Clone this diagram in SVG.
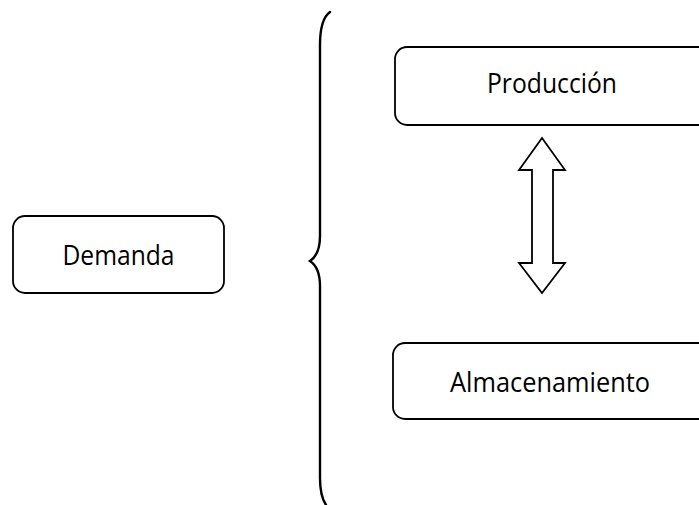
<svg xmlns="http://www.w3.org/2000/svg" width="699" height="505" viewBox="0 0 699 505">
  <style>
    .box { fill: #ffffff; stroke: #000000; stroke-width: 1.8; }
    .label { font-family: "Open Sans", "Noto Sans", sans-serif; font-size: 27.5px; fill: #000000; text-anchor: middle; }
    .brace { fill: none; stroke: #000000; stroke-width: 2.4; stroke-linecap: round; }
    .dbl { fill: #ffffff; stroke: #000000; stroke-width: 1.8; stroke-linejoin: miter; }
  </style>
  <rect width="699" height="505" fill="#ffffff"/>

  <g id="demanda">
    <rect class="box" x="13" y="216" width="211" height="77" rx="12" ry="12"/>
    <text class="label" x="118.5" y="265" textLength="112" lengthAdjust="spacingAndGlyphs">Demanda</text>
  </g>

  <g id="produccion">
    <rect class="box" x="395" y="47" width="320" height="78" rx="12" ry="12"/>
    <text class="label" x="552" y="93" textLength="130" lengthAdjust="spacingAndGlyphs">Producción</text>
  </g>

  <g id="almacenamiento">
    <rect class="box" x="393" y="343" width="320" height="76" rx="12" ry="12"/>
    <text class="label" x="550" y="392" textLength="200" lengthAdjust="spacingAndGlyphs">Almacenamiento</text>
  </g>

  <g id="connectors">
    <!-- curly brace grouping the two right-hand boxes -->
    <path class="brace" d="M330,12 C323,17 320,28 320,45 L320,236 C320,250 316,257 310,261 C316,265 320,272 320,286 L320,478 C320,491 322,499 326,505"/>
    <!-- hollow double-headed arrow -->
    <path class="dbl" d="M542,138 L565,170 L553,170 L553,263 L565,263 L542,293 L519,263 L532,263 L532,170 L519,170 Z"/>
  </g>
</svg>
